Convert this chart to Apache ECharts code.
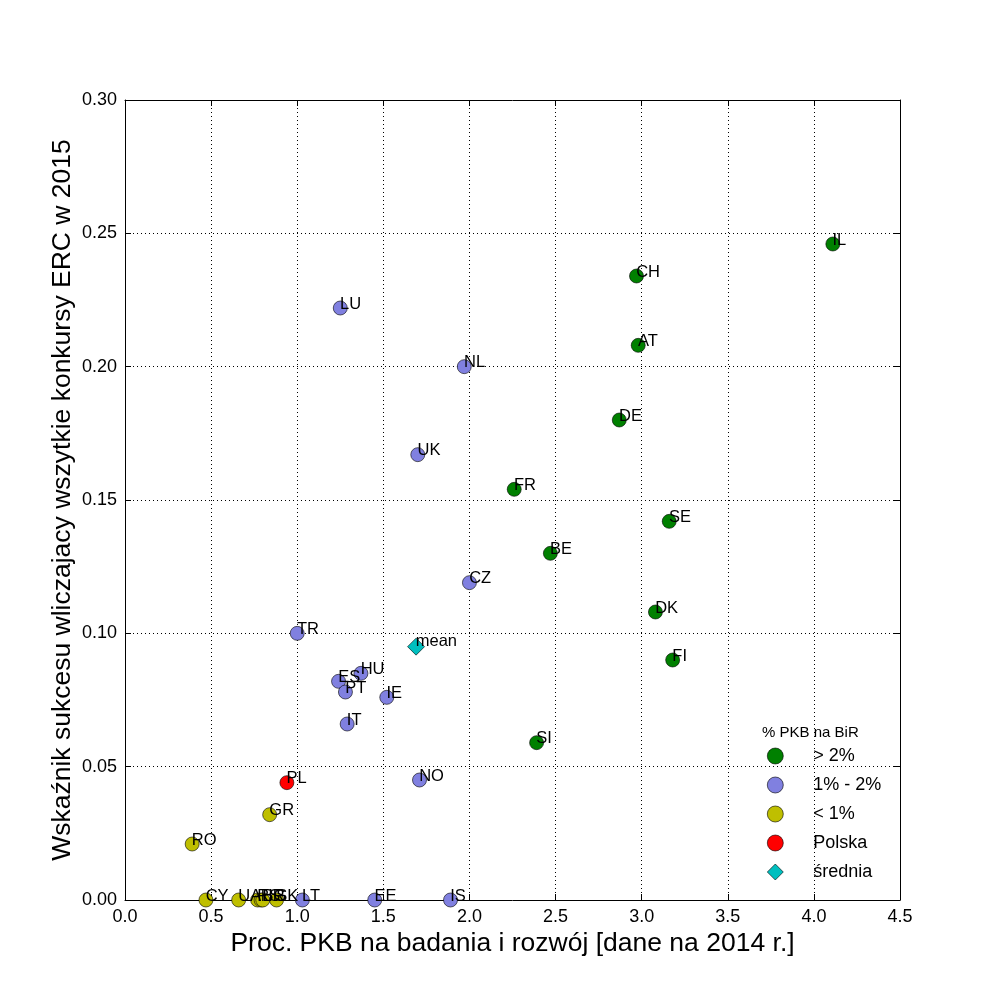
<!DOCTYPE html>
<html>
<head>
<meta charset="utf-8">
<script src="https://cdn.jsdelivr.net/npm/echarts@6/dist/echarts.min.js"></script>
<style>
  html, body { margin: 0; padding: 0; background: #fff; }
  #chart { width: 1000px; height: 1000px; }
</style>
</head>
<body>
<div id="chart"></div>
<script>
// dane: kraje wg udzialu PKB na BiR
const highNames = ['IL', 'CH', 'AT', 'DE', 'FR', 'SE', 'BE', 'DK', 'FI', 'SI'];
const highX = [4.11, 2.97, 2.98, 2.87, 2.26, 3.16, 2.47, 3.08, 3.18, 2.39];
const highY = [0.246, 0.234, 0.208, 0.180, 0.154, 0.142, 0.130, 0.108, 0.090, 0.059];

const midNames = ['LU', 'NL', 'UK', 'CZ', 'TR', 'HU', 'ES', 'PT', 'IE', 'IT', 'NO', 'LT', 'EE', 'IS'];
const midX = [1.25, 1.97, 1.70, 2.00, 1.00, 1.37, 1.24, 1.28, 1.52, 1.29, 1.71, 1.03, 1.45, 1.89];
const midY = [0.222, 0.200, 0.167, 0.119, 0.100, 0.085, 0.082, 0.078, 0.076, 0.066, 0.045, 0.0, 0.0, 0.0];

const lowNames = ['GR', 'RO', 'CY', 'UA', 'RS', 'HR', 'BG', 'SK'];
const lowX = [0.84, 0.39, 0.47, 0.66, 0.77, 0.79, 0.80, 0.88];
const lowY = [0.032, 0.021, 0.0, 0.0, 0.0, 0.0, 0.0, 0.0];

const plNames = ['PL'];
const plX = [0.94];
const plY = [0.044];

const meanNames = ['mean'];
const meanX = [1.69];
const meanY = [0.095];

const xTicks = [0, 0.5, 1, 1.5, 2, 2.5, 3, 3.5, 4, 4.5];
const yTicks = [0, 0.05, 0.1, 0.15, 0.2, 0.25, 0.3];

const FONT = "'Liberation Sans', Arial, sans-serif";

function pts(names, xs, ys) {
  return names.map((n, i) => ({ name: n, value: [xs[i], ys[i]] }));
}

function mkSeries(name, names, xs, ys, color, symbol) {
  return {
    name: name,
    type: 'scatter',
    symbol: symbol,
    symbolSize: symbol === 'diamond' ? 17 : 14,
    data: pts(names, xs, ys),
    itemStyle: { color: color, borderColor: '#000', borderWidth: 0.6, opacity: 1 },
    label: {
      show: true,
      formatter: p => p.name,
      position: symbol === 'diamond' ? [8.5, -5] : [7, -5],
      color: '#000',
      fontFamily: FONT,
      fontSize: 16.5
    },
    emphasis: { disabled: true }
  };
}

let myChart = echarts.init(document.getElementById('chart'));
const option = {
  backgroundColor: '#fff',
  animation: false,
  title: {
    text: '% PKB na BiR',
    left: 757,
    top: 720,
    textStyle: { fontFamily: FONT, fontSize: 15, fontWeight: 'normal', color: '#000' }
  },
  legend: {
    orient: 'vertical',
    left: 762,
    top: 742,
    itemWidth: 16,
    itemHeight: 16,
    itemGap: 11,
    itemStyle: { borderWidth: 0.6, borderColor: '#000' },
    textStyle: { fontFamily: FONT, fontSize: 18, color: '#000', padding: [0, 0, 0, 25] },
    data: [
      { name: '> 2%', icon: 'circle' },
      { name: '1% - 2%', icon: 'circle' },
      { name: '< 1%', icon: 'circle' },
      { name: 'Polska', icon: 'circle' },
      { name: 'średnia', icon: 'diamond' }
    ]
  },
  grid: { left: 125, right: 100, top: 100, bottom: 100 },
  xAxis: [{
    type: 'value',
    min: 0, max: 4.5, interval: 0.5,
    name: 'Proc. PKB na badania i rozwój [dane na 2014 r.]',
    nameLocation: 'middle',
    nameGap: 30,
    nameMoveOverlap: false,
    nameTextStyle: { fontFamily: FONT, fontSize: 26.5, color: '#000' },
    axisLine: { show: true, onZero: false, lineStyle: { color: '#000', width: 1 } },
    axisTick: { show: true, inside: true, length: 6, lineStyle: { color: '#000' } },
    axisLabel: {
      fontFamily: FONT, fontSize: 18, color: '#000', margin: 8,
      formatter: v => xTicks.includes(v) ? v.toFixed(1) : ''
    },
    splitLine: { show: true, lineStyle: { color: '#000', type: [1, 3], width: 1 } }
  }, {
    type: 'value',
    position: 'top',
    min: 0, max: 4.5, interval: 0.5,
    axisLine: { show: true, onZero: false, lineStyle: { color: '#000' } },
    axisTick: { show: true, inside: true, length: 6, lineStyle: { color: '#000' } },
    axisLabel: { show: false },
    splitLine: { show: false }
  }],
  yAxis: [{
    type: 'value',
    min: 0, max: 0.3, interval: 0.05,
    name: 'Wskaźnik sukcesu wliczajacy wszytkie konkursy ERC w 2015',
    nameLocation: 'middle',
    nameGap: 49,
    nameMoveOverlap: false,
    nameTextStyle: { fontFamily: FONT, fontSize: 26.5, color: '#000' },
    axisLine: { show: true, onZero: false, lineStyle: { color: '#000', width: 1 } },
    axisTick: { show: true, inside: true, length: 6, lineStyle: { color: '#000' } },
    axisLabel: {
      fontFamily: FONT, fontSize: 18, color: '#000', margin: 8,
      formatter: v => v.toFixed(2)
    },
    splitLine: { show: true, lineStyle: { color: '#000', type: [1, 3], width: 1 } }
  }, {
    type: 'value',
    position: 'right',
    min: 0, max: 0.3, interval: 0.05,
    axisLine: { show: true, onZero: false, lineStyle: { color: '#000' } },
    axisTick: { show: true, inside: true, length: 6, lineStyle: { color: '#000' } },
    axisLabel: { show: false },
    splitLine: { show: false }
  }],
  series: [
    mkSeries('> 2%', highNames, highX, highY, '#008000', 'circle'),
    mkSeries('1% - 2%', midNames, midX, midY, '#8080e0', 'circle'),
    mkSeries('< 1%', lowNames, lowX, lowY, '#bfbf00', 'circle'),
    mkSeries('Polska', plNames, plX, plY, '#ff0000', 'circle'),
    mkSeries('średnia', meanNames, meanX, meanY, '#00bfbf', 'diamond')
  ]
};
myChart.setOption(option);
</script>
</body>
</html>
